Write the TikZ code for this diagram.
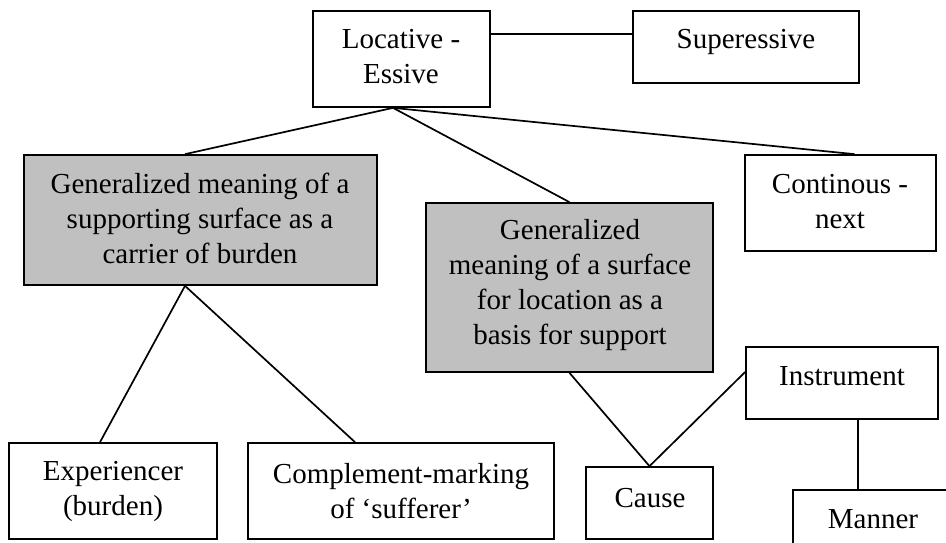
\documentclass[tikz,border=0pt]{standalone}
\usepackage{fontspec}
\setmainfont{Liberation Serif}
\usetikzlibrary{fit}
\definecolor{boxgray}{RGB}{192,192,192}
\tikzset{
  cell/.style={draw=black, line width=1.7pt, inner sep=0pt},
  shaded/.style={cell, fill=boxgray},
  caption/.style={align=center, inner sep=0pt, font=\fontsize{29}{35}\selectfont},
  link/.style={draw=black, line width=1.7pt}
}
\begin{document}
\begin{tikzpicture}[x=1pt,y=-1pt]
\useasboundingbox (0,0) rectangle (946,542);

% boxes
\node (loc) [cell,   fit={(313,11) (490,107)}] {};
\node (sup) [cell,   fit={(633,11) (859,83)}] {};
\node (lft) [shaded, fit={(24,155) (377,285)}] {};
\node (mid) [shaded, fit={(426,203) (713,372)}] {};
\node (con) [cell,   fit={(745,155) (936,251)}] {};
\node (ins) [cell,   fit={(746,347) (938,419)}] {};
\node (cau) [cell,   fit={(586,467) (713,539)}] {};
\node (exp) [cell,   fit={(9,443) (217,539)}] {};
\node (com) [cell,   fit={(248,443) (554,539)}] {};
\node (man) [cell,   fit={(793,490) (953,562)}] {};

% texts
\node (locT) [caption] at (401,56.5) {Locative -\\Essive};
\node (supT) [caption] at (746,42) {Superessive};
\node (lftT) [caption] at (200,218) {Generalized meaning of a\\supporting surface as a\\carrier of burden};
\node (midT) [caption] at (570,285) {Generalized\\meaning of a surface\\for location as a\\basis for support};
\node (conT) [caption] at (840,202) {Continous -\\next};
\node (insT) [caption] at (842,376) {Instrument};
\node (cauT) [caption] at (650,498) {Cause};
\node (expT) [caption] at (113,491) {Experiencer\\(burden)};
\node (comT) [caption] at (401,491) {Complement-marking\\of ‘sufferer’};
\node (manT) [caption] at (873,519) {Manner};

% connectors
\coordinate (mline) at (858,0);
\draw[link] ([yshift=-24pt]loc.north east) -- ([yshift=-24pt]sup.north west);
\draw[link] ([xshift=-8.5pt]loc.south) -- ([xshift=-15.5pt]lft.north);
\draw[link] ([xshift=-8.5pt]loc.south) -- (mid.north);
\draw[link] ([xshift=-8.5pt]loc.south) -- ([xshift=14pt]con.north);
\draw[link] ([xshift=-15.5pt]lft.south) -- ([xshift=-13pt]exp.north);
\draw[link] ([xshift=-15.5pt]lft.south) -- ([xshift=-46pt]com.north);
\draw[link] (mid.south) -- (cau.north);
\draw[link] ([yshift=11pt]ins.west) -- (cau.north);
\draw[link] (ins.south -| mline) -- (man.north -| mline);
\end{tikzpicture}
\end{document}
